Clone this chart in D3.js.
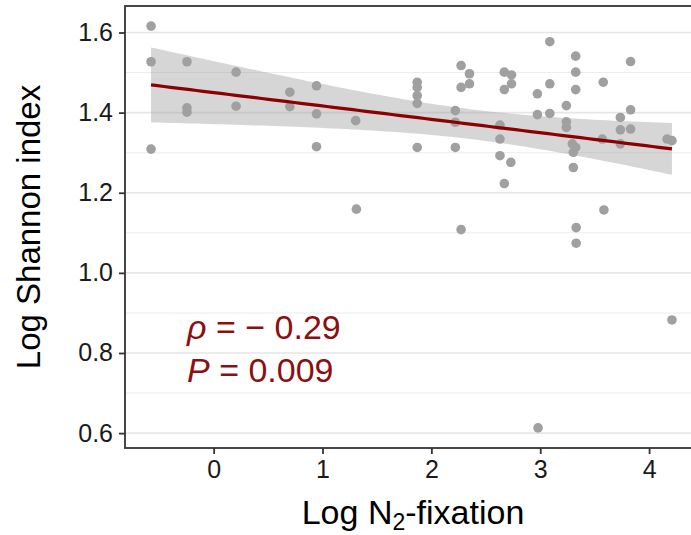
<!DOCTYPE html>
<html>
<head>
<meta charset="utf-8">
<script src="https://cdn.jsdelivr.net/npm/d3@7/dist/d3.min.js"></script>
<style>
  html, body { margin: 0; padding: 0; background: #fff; }
  svg { display: block; font-family: "Liberation Sans", Arial, sans-serif; }
</style>
</head>
<body>
<svg id="chart" width="691" height="535"></svg>
<script>
// ---- data ----
const logN2fix = [
  -0.575, -0.575, -0.575, -0.245, -0.245, -0.245, 0.206, 0.206, 0.70, 0.70,
  0.945, 0.945, 0.945, 1.305, 1.311, 1.87, 1.87, 1.87, 1.87, 1.87,
  2.22, 2.22, 2.22, 2.273, 2.273, 2.273, 2.35, 2.35, 2.63, 2.63,
  2.63, 2.67, 2.67, 2.67, 2.736, 2.736, 2.73, 2.974, 2.974, 2.98,
  3.088, 3.088, 3.088, 3.24, 3.24, 3.24, 3.326, 3.326, 3.326, 3.295,
  3.326, 3.304, 3.304, 3.33, 3.33, 3.579, 3.57, 3.585, 3.736, 3.736,
  3.736, 3.83, 3.83, 3.83, 4.165, 4.21, 4.21
];
const logShannon = [
  1.616, 1.527, 1.309, 1.527, 1.412, 1.401, 1.501, 1.416, 1.451, 1.415,
  1.467, 1.397, 1.315, 1.380, 1.159, 1.476, 1.463, 1.4425, 1.423, 1.313,
  1.405, 1.376, 1.313, 1.5175, 1.463, 1.108, 1.497, 1.472, 1.369, 1.334,
  1.2925, 1.501, 1.4575, 1.223, 1.494, 1.472, 1.276, 1.447, 1.395, 0.613,
  1.577, 1.472, 1.398, 1.4175, 1.377, 1.363, 1.541, 1.501, 1.4575, 1.322,
  1.313, 1.301, 1.263, 1.113, 1.074, 1.476, 1.334, 1.157, 1.388, 1.357,
  1.322, 1.5275, 1.407, 1.359, 1.334, 1.330, 0.8825
];
const xTicks = [0, 1, 2, 3, 4];
const yTicks = [0.6, 0.8, 1.0, 1.2, 1.4, 1.6];
const yMinorTicks = [0.7, 0.9, 1.1, 1.3, 1.5];
const statLines = [["ρ", " = − 0.29"], ["P", " = 0.009"]];
const xTitle = ["Log N", "2", "-fixation"];
const yTitle = "Log Shannon index";

// ---- layout ----
const svg = d3.select("#chart");
const panel = { left: 125, top: 6, right: 698, bottom: 448 };

function expand(ext, f) { const r = ext[1] - ext[0]; return [ext[0] - f * r, ext[1] + f * r]; }
const x = d3.scaleLinear().domain(expand(d3.extent(logN2fix), 0.05)).range([panel.left, panel.right]);
const y = d3.scaleLinear().domain(expand(d3.extent(logShannon), 0.05)).range([panel.bottom, panel.top]);

const pts = logN2fix.map((v, i) => ({ x: v, y: logShannon[i] }));

// ---- gridlines (horizontal only) ----
const g = svg.append("g");
g.selectAll("line.minor").data(yMinorTicks).join("line")
  .attr("x1", panel.left).attr("x2", panel.right)
  .attr("y1", d => y(d)).attr("y2", d => y(d))
  .attr("stroke", "#ececec").attr("stroke-width", 1.1);
g.selectAll("line.major").data(yTicks).join("line")
  .attr("x1", panel.left).attr("x2", panel.right)
  .attr("y1", d => y(d)).attr("y2", d => y(d))
  .attr("stroke", "#e6e6e6").attr("stroke-width", 1.6);

// ---- linear fit with 95% CI ----
const n = pts.length;
const mx = d3.mean(pts, d => d.x), my = d3.mean(pts, d => d.y);
const sxx = d3.sum(pts, d => (d.x - mx) ** 2);
const sxy = d3.sum(pts, d => (d.x - mx) * (d.y - my));
const b = sxy / sxx, a = my - b * mx;
const sse = d3.sum(pts, d => (d.y - (a + b * d.x)) ** 2);
const s = Math.sqrt(sse / (n - 2));
const tcrit = 1.997;
const [xmin, xmax] = d3.extent(logN2fix);
const fit = d3.range(0, 81).map(i => {
  const xv = xmin + (xmax - xmin) * i / 80;
  const yv = a + b * xv;
  const se = s * Math.sqrt(1 / n + (xv - mx) ** 2 / sxx);
  return { x: xv, y: yv, lo: yv - tcrit * se, hi: yv + tcrit * se };
});

svg.append("path").datum(fit)
  .attr("d", d3.area().x(d => x(d.x)).y0(d => y(d.lo)).y1(d => y(d.hi)))
  .attr("fill", "#999999").attr("fill-opacity", 0.4);

// ---- points ----
svg.append("g").selectAll("circle").data(pts).join("circle")
  .attr("cx", d => x(d.x)).attr("cy", d => y(d.y)).attr("r", 4.8)
  .attr("fill", "#a0a0a0");

svg.append("path").datum(fit)
  .attr("d", d3.line().x(d => x(d.x)).y(d => y(d.y)))
  .attr("fill", "none").attr("stroke", "#8b0000").attr("stroke-width", 3.2);

// ---- panel border / axes ----
svg.append("rect")
  .attr("x", panel.left).attr("y", panel.top)
  .attr("width", panel.right - panel.left).attr("height", panel.bottom - panel.top)
  .attr("fill", "none").attr("stroke", "#333333").attr("stroke-width", 1.8);

const xAxis = svg.append("g").attr("transform", `translate(0,${panel.bottom})`)
  .call(d3.axisBottom(x).tickValues(xTicks).tickFormat(d3.format("d")).tickSize(6).tickPadding(6));
const yAxis = svg.append("g").attr("transform", `translate(${panel.left},0)`)
  .call(d3.axisLeft(y).tickValues(yTicks).tickFormat(d3.format(".1f")).tickSize(6).tickPadding(6));
[xAxis, yAxis].forEach(ax => {
  ax.select(".domain").remove();
  ax.selectAll(".tick line").attr("stroke", "#333333").attr("stroke-width", 1.8);
  ax.selectAll(".tick text").attr("fill", "#1a1a1a")
    .style("font-family", "'Liberation Sans', Arial, sans-serif").style("font-size", "25px");
});

// ---- titles ----
const xt = svg.append("text")
  .attr("x", 413).attr("y", 524)
  .attr("text-anchor", "middle").attr("fill", "#000")
  .style("font-size", "34px");
xt.append("tspan").text(xTitle[0]);
xt.append("tspan").attr("dy", 6).style("font-size", "23px").text(xTitle[1]);
xt.append("tspan").attr("dy", -6).text(xTitle[2]);

svg.append("text")
  .attr("transform", `translate(40,${(panel.top + panel.bottom) / 2}) rotate(-90)`)
  .attr("text-anchor", "middle").attr("fill", "#000")
  .style("font-size", "33px").text(yTitle);

// ---- stats annotation ----
const ann = svg.append("g");
statLines.forEach((ln, i) => {
  const t = ann.append("text")
    .attr("x", 187).attr("y", 339 + i * 43)
    .attr("fill", "#8b1010").style("font-size", "34px");
  t.append("tspan").style("font-style", "italic").text(ln[0]);
  t.append("tspan").text(ln[1]);
});
</script>
</body>
</html>
